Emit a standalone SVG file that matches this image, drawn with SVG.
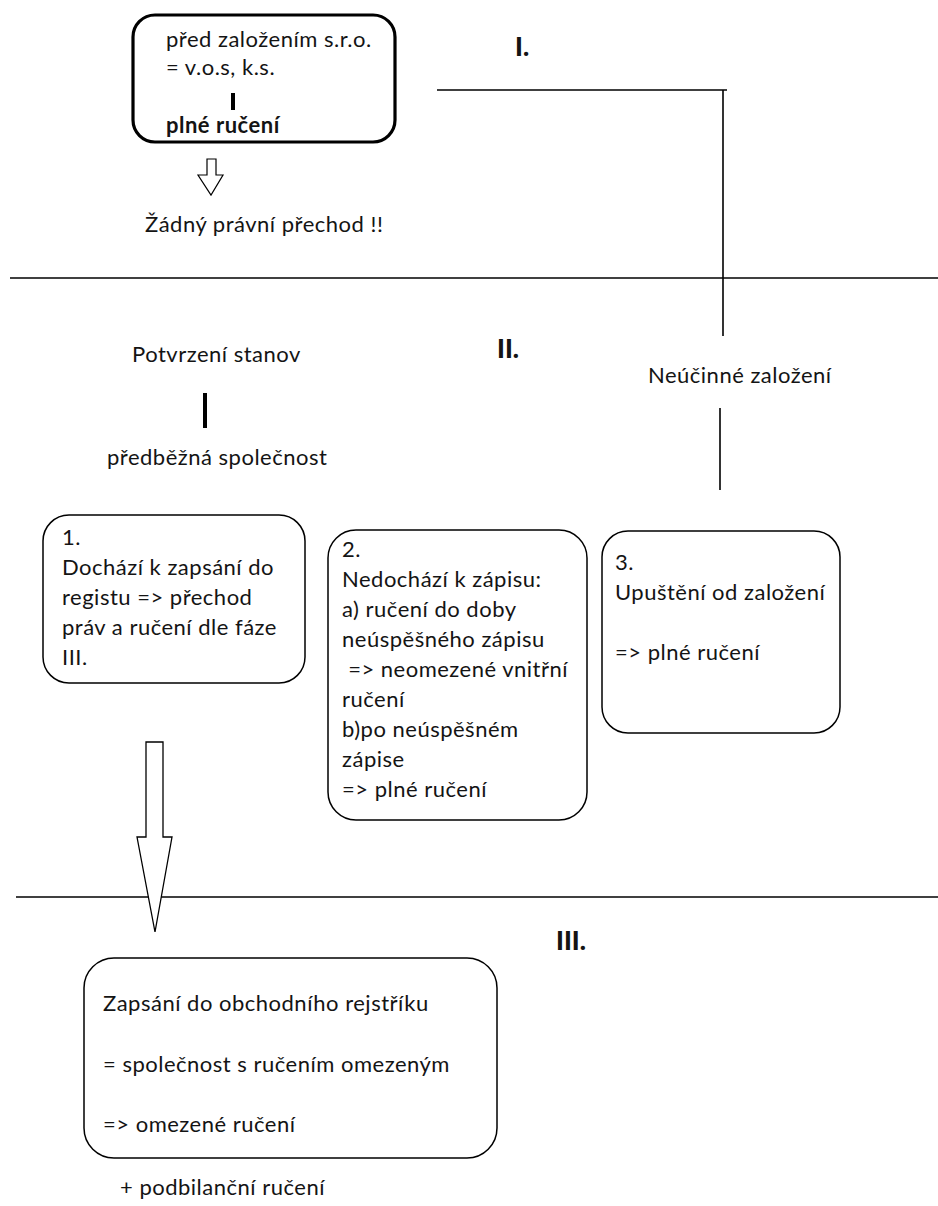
<svg xmlns="http://www.w3.org/2000/svg" width="938" height="1206" viewBox="0 0 938 1206">
<style>
text{font-family:Lato,"Open Sans","Noto Sans",sans-serif;font-size:22px;letter-spacing:0.5px;fill:#141414}
.b{font-weight:bold}
.h{font-weight:900;font-size:26px;letter-spacing:0}
.box{fill:#fff;stroke:#000;stroke-width:1.5}
.ln{stroke:#000;stroke-width:1.6;fill:none}
.bar{fill:#000}
</style>
<rect width="938" height="1206" fill="#fff"/>
<g id="connectors">
<line class="ln" x1="10" y1="278" x2="938" y2="278"/>
<line class="ln" x1="16" y1="897" x2="938" y2="897"/>
<polyline class="ln" points="437,90 727,90"/>
<line class="ln" x1="723" y1="90" x2="723" y2="336"/>
<line class="ln" x1="720" y1="408" x2="720" y2="490"/>
<path id="smallArrow" d="M207,159 H216 V175 H223 L211,195 L198,175 H207 Z" fill="#fff" stroke="#000" stroke-width="1.2"/>
<path id="bigArrow" d="M146,742 H163 V837 H172 L155,932 L137,837 H146 Z" fill="#fff" stroke="#000" stroke-width="1.3"/>
</g>
<g id="node-pre">
<rect x="133" y="15" width="262" height="127" rx="22" fill="#fff" stroke="#000" stroke-width="3.2"/>
<text x="166" y="47">před založením s.r.o.</text>
<text x="166" y="75">= v.o.s, k.s.</text>
<rect class="bar" x="231" y="93" width="4" height="17"/>
<text class="b" x="166" y="133">plné ručení</text>
</g>
<g id="label-zadny"><text x="145" y="232">Žádný právní přechod !!</text></g>
<g id="label-I"><text class="h" x="515" y="56">I.</text></g>
<g id="label-II"><text class="h" x="497" y="358">II.</text></g>
<g id="label-III"><text class="h" x="556" y="950">III.</text></g>
<g id="label-neucinne"><text x="648" y="383">Neúčinné založení</text></g>
<g id="node-potvrzeni">
<text x="132" y="362">Potvrzení stanov</text>
<rect class="bar" x="203" y="393" width="4" height="35"/>
<text x="107" y="465">předběžná společnost</text>
</g>
<g id="node-1">
<rect class="box" x="43" y="515" width="262" height="168" rx="26"/>
<text x="62" y="545">1.</text>
<text x="62" y="575">Dochází k zapsání do</text>
<text x="62" y="605">registu =&gt; přechod</text>
<text x="62" y="635">práv a ručení dle fáze</text>
<text x="62" y="665">III.</text>
</g>
<g id="node-2">
<rect class="box" x="328" y="530" width="259" height="290" rx="28"/>
<text x="342" y="557">2.</text>
<text x="342" y="587">Nedochází k zápisu:</text>
<text x="342" y="617">a) ručení do doby</text>
<text x="342" y="647">neúspěšného zápisu</text>
<text x="342" y="677" xml:space="preserve"> =&gt; neomezené vnitřní</text>
<text x="342" y="707">ručení</text>
<text x="342" y="737">b)po neúspěšném</text>
<text x="342" y="767">zápise</text>
<text x="342" y="797">=&gt; plné ručení</text>
</g>
<g id="node-3">
<rect class="box" x="602" y="531" width="238" height="202" rx="26"/>
<text x="615" y="570">3.</text>
<text x="615" y="600">Upuštění od založení</text>
<text x="615" y="660">=&gt; plné ručení</text>
</g>
<g id="node-III">
<rect class="box" x="84" y="958" width="413" height="200" rx="30"/>
<text x="103" y="1011">Zapsání do obchodního rejstříku</text>
<text x="103" y="1072">= společnost s ručením omezeným</text>
<text x="103" y="1132">=&gt; omezené ručení</text>
</g>
<g id="label-podbilancni"><text x="120" y="1195">+ podbilanční ručení</text></g>
</svg>
